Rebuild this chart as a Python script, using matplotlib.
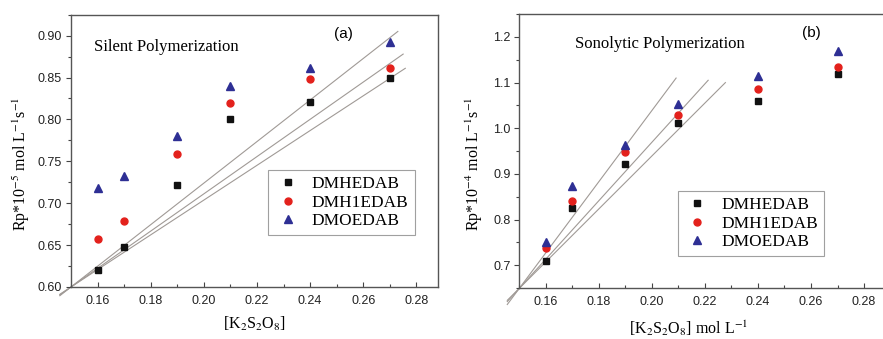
import matplotlib
matplotlib.use("Agg")
import matplotlib.pyplot as plt
import numpy as np
from matplotlib.ticker import MultipleLocator, FormatStrFormatter

conc = [0.16, 0.17, 0.19, 0.21, 0.24, 0.27]
series_names = ["DMHEDAB", "DMH1EDAB", "DMOEDAB"]

silent_dmhedab = [0.620, 0.648, 0.722, 0.801, 0.821, 0.849]
silent_dmh1edab = [0.657, 0.679, 0.759, 0.820, 0.848, 0.861]
silent_dmoedab = [0.718, 0.733, 0.780, 0.840, 0.861, 0.892]

sono_dmhedab = [0.709, 0.826, 0.922, 1.012, 1.060, 1.119]
sono_dmh1edab = [0.738, 0.840, 0.949, 1.030, 1.085, 1.134]
sono_dmoedab = [0.750, 0.873, 0.963, 1.052, 1.115, 1.168]

# fitted straight lines: (x_start, x_end, y at x=0.15, slope)
silent_fits = [(0.1458, 0.273, 0.600, 2.48), (0.1458, 0.275, 0.600, 2.224), (0.1458, 0.2758, 0.600, 2.075)]
sono_fits = [(0.1454, 0.2091, 0.650, 7.78), (0.1454, 0.2212, 0.650, 6.39), (0.1454, 0.2277, 0.650, 5.79)]

plt.rcParams['mathtext.fontset'] = 'stix'
serif = 'Liberation Serif'
sans = 'Liberation Sans'

fig = plt.figure(figsize=(8.83, 3.39), dpi=100)
axL = fig.add_axes([0.0804, 0.1534, 0.4153, 0.8032])
axR = fig.add_axes([0.5883, 0.1500, 0.4202, 0.8087])

styles = [dict(marker='s', color='#111111', ms=4.6),
          dict(marker='o', color='#e3211c', ms=5.0),
          dict(marker='^', color='#2e2f94', ms=5.6)]

def setup(ax, xlim, ylim, ymaj, ymin, yfmt):
    ax.set_xlim(*xlim)
    ax.set_ylim(*ylim)
    ax.xaxis.set_major_locator(MultipleLocator(0.02))
    ax.xaxis.set_minor_locator(MultipleLocator(0.01))
    ax.yaxis.set_major_locator(MultipleLocator(ymaj))
    ax.yaxis.set_minor_locator(MultipleLocator(ymin))
    ax.xaxis.set_major_formatter(FormatStrFormatter('%.2f'))
    ax.yaxis.set_major_formatter(FormatStrFormatter(yfmt))
    ax.tick_params(axis='x', which='both', direction='in', top=False, labelsize=9, pad=6, colors='#444444', labelcolor='#222222')
    ax.tick_params(axis='y', which='both', direction='out', right=False, labelsize=9, pad=3, colors='#444444', labelcolor='#222222')
    ax.tick_params(which='major', length=3.5, width=0.8)
    ax.tick_params(which='minor', length=2.5, width=0.8)
    for s in ax.spines.values():
        s.set_color('#555555')
        s.set_linewidth(1.0)

def draw(ax, data, fits):
    for (xs, xe, y0, k) in fits:
        xx = np.array([xs, xe])
        ax.plot(xx, y0 + k * (xx - 0.15), color='#a09a96', lw=0.8, clip_on=False, zorder=1)
    for vals, name, st in zip(data, series_names, styles):
        ax.plot(conc, vals, linestyle='none', marker=st['marker'], color=st['color'],
                ms=st['ms'], label=name, zorder=3, clip_on=False)

def legend(ax, anchor):
    leg = ax.legend(loc='upper left', bbox_to_anchor=anchor, prop={'family': serif, 'size': 12.4},
                    frameon=True, fancybox=False, edgecolor='#888888', handletextpad=0.6,
                    labelspacing=0.15, borderpad=0.35, handlelength=1.6, borderaxespad=0)
    leg.get_frame().set_linewidth(0.8)

# left panel
setup(axL, (0.15, 0.288), (0.60, 0.925), 0.05, 0.025, '%.2f')
draw(axL, [silent_dmhedab, silent_dmh1edab, silent_dmoedab], silent_fits)
axL.set_ylabel(r'Rp*10$^{-5}$ mol L$^{-1}$s$^{-1}$', fontfamily=serif, fontsize=11.5)
axL.yaxis.set_label_coords(-0.106, 0.452)
axL.set_xlabel(r'[K$_2$S$_2$O$_8$]', fontfamily=serif, fontsize=11.5)
axL.xaxis.set_label_coords(0.5, -0.103)
axL.text(0.063, 0.882, 'Silent Polymerization', transform=axL.transAxes, fontfamily=serif,
         fontsize=12, va='center')
axL.text(0.742, 0.93, '(a)', transform=axL.transAxes, fontfamily=sans, fontsize=11, ha='center', va='center')
legend(axL, (0.537, 0.43))

# right panel
setup(axR, (0.15, 0.29), (0.65, 1.25), 0.1, 0.05, '%.1f')
draw(axR, [sono_dmhedab, sono_dmh1edab, sono_dmoedab], sono_fits)
axR.set_ylabel(r'Rp*10$^{-4}$ mol L$^{-1}$s$^{-1}$', fontfamily=serif, fontsize=11.5)
axR.yaxis.set_label_coords(-0.093, 0.454)
axR.set_xlabel(r'[K$_2$S$_2$O$_8$] mol L$^{-1}$', fontfamily=serif, fontsize=11.5)
axR.xaxis.set_label_coords(0.455, -0.112)
axR.text(0.15, 0.89, 'Sonolytic Polymerization', transform=axR.transAxes, fontfamily=serif,
         fontsize=12, va='center')
axR.text(0.786, 0.93, '(b)', transform=axR.transAxes, fontfamily=sans, fontsize=11, ha='center', va='center')
legend(axR, (0.426, 0.354))

for ax in (axL, axR):
    for lbl in ax.get_xticklabels() + ax.get_yticklabels():
        lbl.set_fontfamily(sans)

fig.savefig('out.png', dpi=100)
